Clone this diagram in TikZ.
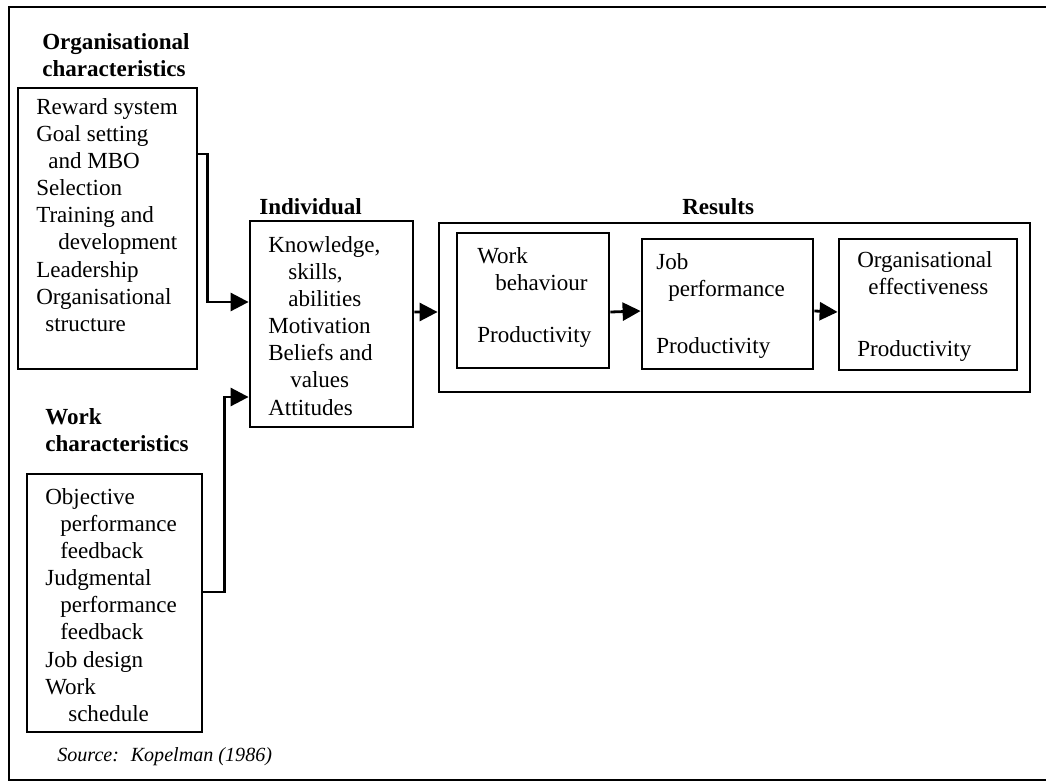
\documentclass[tikz,border=0pt]{standalone}
\usepackage{fontspec}
\setmainfont{Liberation Serif}
\usetikzlibrary{arrows.meta,fit,positioning}
\newcommand{\lind}[1]{\hspace*{#1mm}}

\begin{document}
\begin{tikzpicture}[
    x=0.25mm, y=-0.25mm,
    nosep/.style={inner sep=0},
    box/.style={draw, line width=0.7mm, nosep},
    txt/.style={nosep, align=left, anchor=north west, font=\fontsize{16.4}{19.3}\selectfont},
    ttl/.style={txt, font=\fontsize{16.4}{19.3}\selectfont\bfseries},
    conn/.style={line width=0.7mm, -{Triangle[length=4.5mm,width=4.5mm]}}]
\useasboundingbox (0,0) rectangle (1046,782);
\draw[line width=0.5mm] (1046,7) -- (9,7) -- (9,780) -- (1046,780);

% headings
\node[ttl] (orghead) at (42,33) {Organisational\\characteristics};
\node[ttl] (workhead) at (45,408) {Work\\characteristics};
\node[ttl, anchor=base west] (indhead) at (259,214) {Individual};
\node[ttl, anchor=base west] (reshead) at (682,214) {Results};

% boxes
\node[box, fit={(18,88) (197,369)}] (org) {};
\node[box, fit={(27,474) (202,732)}] (work) {};
\node[box, fit={(250,221) (413,427)}] (indiv) {};
\node[box, fit={(439,223) (1030,392)}] (results) {};
\node[box, fit={(457,233) (609,368)}] (wb) {};
\node[box, fit={(642,239) (813,369)}] (job) {};
\node[box, fit={(839,239) (1017,370)}] (oeff) {};

% box texts
\node[txt] (orgtxt) at (36,98) {Reward system\\Goal setting\\\lind{3}and MBO\\Selection\\Training and\\\lind{5.5}development\\Leadership\\Organisational\\\lind{2.25}structure};
\node[txt] (worktxt) at (45,488) {Objective\\\lind{3.75}performance\\\lind{3.75}feedback\\Judgmental\\\lind{3.75}performance\\\lind{3.75}feedback\\Job design\\Work\\\lind{5.75}schedule};
\node[txt] (indtxt) at (268,236) {Knowledge,\\\lind{5}skills,\\\lind{5}abilities\\Motivation\\Beliefs and\\\lind{5.5}values\\Attitudes};
\node[txt] (wbtxt) at (477,247) {Work\\\lind{4.5}behaviour\\[18pt]Productivity};
\node[txt] (jobtxt) at (656,253) {Job\\\lind{3}performance\\[21pt]Productivity};
\node[txt] (oefftxt) at (857,251) {Organisational\\\lind{2.75}effectiveness\\[25pt]Productivity};

\node[txt, anchor=base west, font=\fontsize{14.3}{17}\selectfont\itshape] (source) at (57,761) {Source:~ Kopelman (1986)};

% connectors
\draw[conn] ([yshift=18.6mm]org.east) -- ++(9,0) |- ([yshift=5.5mm]indiv.west);
\draw[conn] ([yshift=2.75mm]work.east) -- ++(21,0) |- ([yshift=-18.25mm]indiv.west);
\draw[conn] ([yshift=3mm]indiv.east) -- ([yshift=-1.125mm]results.west);
\draw[conn] ([yshift=-2.875mm]wb.east) -- ([yshift=-1.75mm]job.west);
\draw[conn] ([yshift=-1.75mm]job.east) -- ([yshift=-1.875mm]oeff.west);

\end{tikzpicture}
\end{document}
